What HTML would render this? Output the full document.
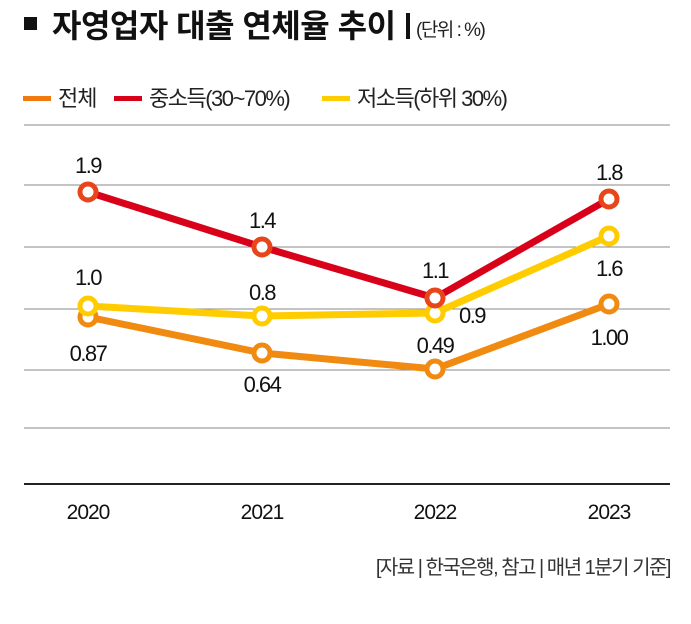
<!DOCTYPE html><html><head><meta charset="utf-8"><style>
body{margin:0;background:#fff;width:691px;height:619px;overflow:hidden;font-family:"Liberation Sans","Noto Sans CJK KR",sans-serif}
</style></head><body>
<svg width="691" height="619" xmlns="http://www.w3.org/2000/svg" font-family="Liberation Sans, Noto Sans CJK KR, sans-serif">
<rect x="24" y="17" width="13" height="13" fill="#111"/>
<text x="52" y="37" font-size="32" font-weight="bold" fill="#111" letter-spacing="-0.5">자영업자 대출 연체율 추이</text>
<rect x="406" y="13" width="4" height="26" fill="#111"/>
<text x="416" y="36" font-size="19" fill="#222" letter-spacing="-1.5">(단위 : %)</text>
<rect x="23" y="96" width="28" height="5" fill="#f07a10"/>
<text x="58" y="106" font-size="22" fill="#222" letter-spacing="-1">전체</text>
<rect x="114" y="96" width="28" height="5" fill="#d9001a"/>
<text x="149" y="106" font-size="22" fill="#222" letter-spacing="-1.5">중소득(30~70%)</text>
<rect x="322" y="96" width="28" height="5" fill="#ffcc00"/>
<text x="357" y="106" font-size="22" fill="#222" letter-spacing="-1.5">저소득(하위 30%)</text>
<g stroke="#888" stroke-width="1">
<line x1="24" y1="125" x2="670" y2="125"/><line x1="24" y1="185" x2="670" y2="185"/>
<line x1="24" y1="247" x2="670" y2="247"/><line x1="24" y1="309" x2="670" y2="309"/>
<line x1="24" y1="370" x2="670" y2="370"/><line x1="24" y1="428" x2="670" y2="428"/>
</g>
<line x1="24" y1="484" x2="670" y2="484" stroke="#222" stroke-width="2"/>
<g fill="none" stroke-width="7" stroke-linejoin="round">
<polyline points="88,317 262,353 435,369 609,304" stroke="#f08a10"/>
<polyline points="88,306 262,316 435,313 609,236" stroke="#ffcc00"/>
<polyline points="88,192 262,247 435,298 609,199" stroke="#d9001a"/>
</g>
<g fill="#fff" stroke-width="5">
<g stroke="#f08a10"><circle cx="88" cy="317" r="8"/><circle cx="262" cy="353" r="8"/><circle cx="435" cy="369" r="8"/><circle cx="609" cy="304" r="8"/></g>
<g stroke="#ffcc00"><circle cx="88" cy="306" r="8"/><circle cx="262" cy="316" r="8"/><circle cx="435" cy="313" r="8"/><circle cx="609" cy="236" r="8"/></g>
<g stroke="#e8461a"><circle cx="88" cy="192" r="8"/><circle cx="262" cy="247" r="8"/><circle cx="435" cy="298" r="8"/><circle cx="609" cy="199" r="8"/></g>
</g>
<g font-size="22" fill="#111" text-anchor="middle" letter-spacing="-1.5">
<text x="88" y="173">1.9</text><text x="262" y="228">1.4</text><text x="435" y="278">1.1</text><text x="609" y="180">1.8</text>
<text x="88" y="285">1.0</text><text x="262" y="300">0.8</text><text x="472" y="323">0.9</text><text x="609" y="276">1.6</text>
<text x="88" y="361">0.87</text><text x="262" y="392">0.64</text><text x="435" y="353">0.49</text><text x="609" y="345">1.00</text>
</g>
<g font-size="21" fill="#111" text-anchor="middle" letter-spacing="-1">
<text x="88" y="519">2020</text><text x="262" y="519">2021</text><text x="435" y="519">2022</text><text x="609" y="519">2023</text>
</g>
<text x="670" y="574" font-size="20" fill="#333" text-anchor="end" letter-spacing="-1.5">[자료 | 한국은행, 참고 | 매년 1분기 기준]</text>
</svg>
</body></html>
